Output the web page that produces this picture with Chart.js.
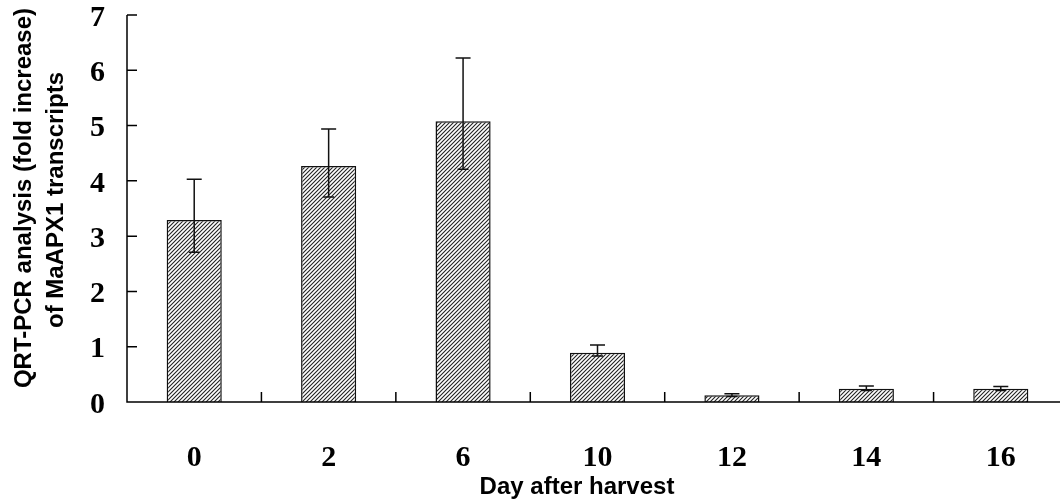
<!DOCTYPE html>
<html>
<head>
<meta charset="utf-8">
<script src="https://cdn.jsdelivr.net/npm/chart.js@4"></script>
<style>
  html, body { margin: 0; padding: 0; background: #fff; overflow: hidden; }
  #wrap { position: absolute; left: 0; top: 0; width: 1068px; height: 499px; }
</style>
</head>
<body>
<div id="wrap"><canvas id="c"></canvas></div>
<script>
const categories = ['0', '2', '6', '10', '12', '14', '16'];
const means      = [3.29, 4.27, 5.08, 0.89, 0.12, 0.24, 0.24];
const errUpper   = [4.03, 4.94, 6.22, 1.03, 0.15, 0.29, 0.28];
const errLower   = [2.71, 3.71, 4.21, 0.83, 0.10, 0.21, 0.21];
const yTicks     = [0, 1, 2, 3, 4, 5, 6, 7];
const xTitle = 'Day after harvest';
const yTitle = ['QRT-PCR analysis (fold increase)', 'of MaAPX1 transcripts'];

function hatch() {
  const s = 4;
  const p = document.createElement('canvas');
  p.width = s; p.height = s;
  const g = p.getContext('2d');
  g.fillStyle = '#fff';
  g.fillRect(0, 0, s, s);
  g.strokeStyle = '#222';
  g.lineWidth = 1.1;
  g.beginPath();
  g.moveTo(0, s); g.lineTo(s, 0);
  g.moveTo(-1, 1); g.lineTo(1, -1);
  g.moveTo(s - 1, s + 1); g.lineTo(s + 1, s - 1);
  g.stroke();
  return document.getElementById('c').getContext('2d').createPattern(p, 'repeat');
}

const decor = {
  id: 'decor',
  afterDatasetsDraw(chart) {
    const ctx = chart.ctx;
    const xs = chart.scales.x, ys = chart.scales.y;
    const meta = chart.getDatasetMeta(0);
    ctx.save();
    ctx.strokeStyle = '#111';
    ctx.lineWidth = 1.5;
    meta.data.forEach((bar, i) => {
      const x = bar.x;
      const yt = ys.getPixelForValue(errUpper[i]);
      const yb = ys.getPixelForValue(errLower[i]);
      ctx.beginPath();
      ctx.moveTo(x, yt); ctx.lineTo(x, yb);
      ctx.moveTo(x - 7.5, yt); ctx.lineTo(x + 7.5, yt);
      ctx.moveTo(x - 5.5, yb); ctx.lineTo(x + 5.5, yb);
      ctx.stroke();
    });
    const ca = chart.chartArea;
    ctx.strokeStyle = '#000';
    ctx.lineWidth = 1.5;
    ctx.beginPath();
    ctx.moveTo(ca.left, ys.getPixelForValue(7)); ctx.lineTo(ca.left, ys.getPixelForValue(0));
    ctx.lineTo(ca.right, ys.getPixelForValue(0));
    yTicks.forEach(v => {
      const y = ys.getPixelForValue(v);
      ctx.moveTo(ca.left, y); ctx.lineTo(ca.left + 10, y);
    });
    const y0 = ys.getPixelForValue(0);
    for (let i = 1; i < categories.length; i++) {
      const x = (xs.getPixelForValue(i - 1) + xs.getPixelForValue(i)) / 2;
      ctx.moveTo(x, y0); ctx.lineTo(x, y0 - 10);
    }
    ctx.stroke();
    ctx.fillStyle = '#000';
    ctx.font = 'bold 24px "Liberation Sans", Arial, sans-serif';
    ctx.textAlign = 'center';
    ctx.textBaseline = 'middle';
    ctx.fillText(xTitle, 577, 487);
    ctx.save();
    ctx.translate(24, 198);
    ctx.rotate(-Math.PI / 2);
    ctx.fillText(yTitle[0], 0, 0);
    ctx.restore();
    ctx.save();
    ctx.translate(56, 200);
    ctx.rotate(-Math.PI / 2);
    ctx.fillText(yTitle[1], 0, 0);
    ctx.restore();
    ctx.restore();
  }
};

new Chart(document.getElementById('c'), {
  type: 'bar',
  data: {
    labels: categories,
    datasets: [{
      data: means,
      backgroundColor: hatch(),
      borderColor: '#111',
      borderWidth: 1.5,
      barPercentage: 0.82,
      categoryPercentage: 0.5
    }]
  },
  options: {
    responsive: true,
    maintainAspectRatio: false,
    animation: false,
    events: [],
    layout: { padding: { top: 15, right: 0, left: 0, bottom: 0 } },
    plugins: { legend: { display: false }, tooltip: { enabled: false } },
    scales: {
      x: {
        grid: { display: false, drawTicks: false },
        border: { display: false },
        ticks: {
          color: '#000',
          padding: 38,
          font: { family: '"Liberation Serif", "Times New Roman", serif', weight: 'bold', size: 30 }
        },
        afterFit(s) { s.height = 97; s.paddingLeft = 0; s.paddingRight = 0; }
      },
      y: {
        min: 0, max: 7,
        grid: { display: false, drawTicks: false },
        border: { display: false },
        ticks: {
          stepSize: 1,
          color: '#000',
          padding: 22,
          labelOffset: 3,
          font: { family: '"Liberation Serif", "Times New Roman", serif', weight: 'bold', size: 30 }
        },
        afterFit(s) { s.width = 127; s.paddingTop = 0; s.paddingBottom = 0; }
      }
    }
  },
  plugins: [decor]
});
</script>
</body>
</html>
